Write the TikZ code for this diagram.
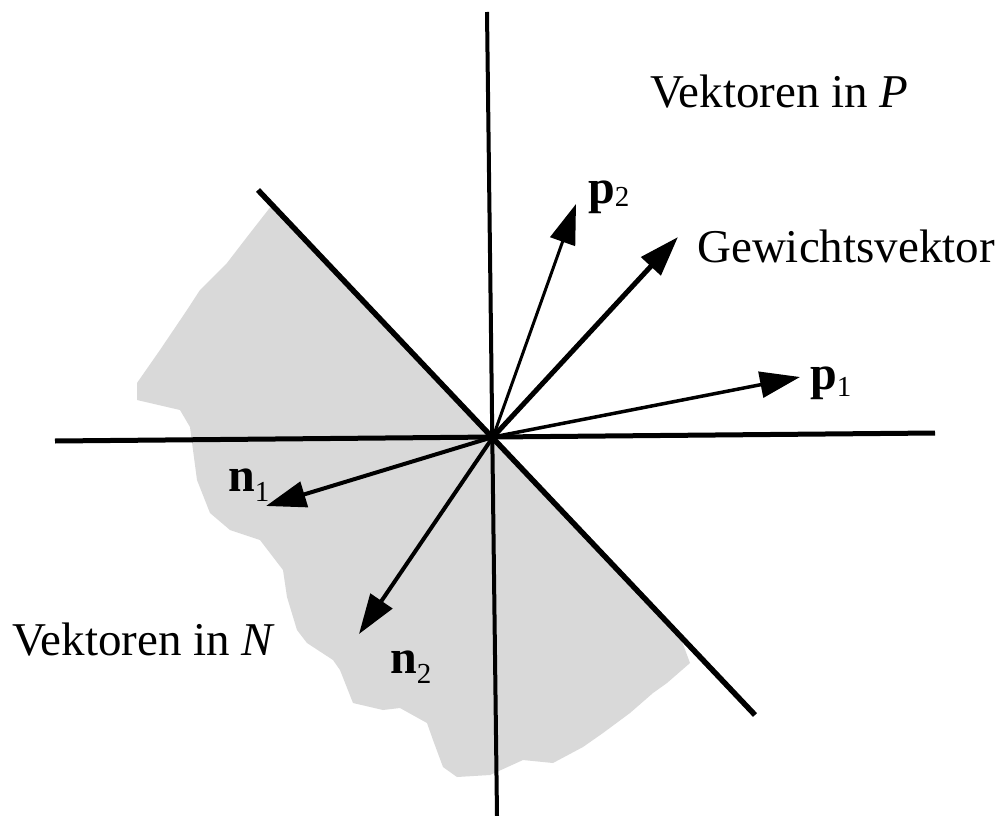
\documentclass[tikz,border=0pt]{standalone}
\usepackage{fontspec}
\setmainfont{Liberation Serif}
\usetikzlibrary{arrows.meta}
\tikzset{
  axisline/.style={line width=5pt, black},
  vec/.style={line width=#1, black, -{Triangle[length=40pt,width=26pt]}},
  bigtext/.style={font=\fontsize{47}{56}\selectfont, inner sep=0pt, anchor=base west},
  veclabel/.style={font=\fontsize{48}{56}\selectfont\bfseries, inner sep=0pt, anchor=base west},
  shade/.style={fill=black!15, draw=none}
}
\newcommand{\subs}[2]{\raisebox{-#2}{\fontsize{29}{32}\selectfont\mdseries #1}}
\begin{document}
\begin{tikzpicture}[x=1pt,y=-1pt]
\useasboundingbox (0,0) rectangle (1007,816);
\fill[white] (0,0) rectangle (1007,816);
% coordinates
\coordinate (O) at (493,437);
\coordinate (vtop) at (487,12);
\coordinate (vbot) at (497,816);
\coordinate (hleft) at (55,441);
\coordinate (hright) at (935,433);
\coordinate (dtop) at (258,190);
\coordinate (dbot) at (755,715);
\coordinate (p1tip) at (800,377);
\coordinate (p2tip) at (576,204);
\coordinate (gtip) at (678,237);
\coordinate (n1tip) at (266,506);
\coordinate (n2tip) at (359,634);
% shaded region
\path[shade] (272,205) -- (O) -- (680,636) -- (690,663) -- (667,683) -- (653,693) -- (630,713)
  -- (603,733) -- (583,747) -- (553,763) -- (523,760) -- (490,775) -- (457,777) -- (443,767)
  -- (433,740) -- (427,723) -- (400,708) -- (383,710) -- (353,703) -- (340,670) -- (333,660)
  -- (307,643) -- (297,630) -- (287,597) -- (283,570) -- (260,540) -- (230,530) -- (210,513)
  -- (197,480) -- (193,450) -- (190,427) -- (180,410) -- (137,400) -- (137,383) -- (160,350)
  -- (187,310) -- (200,290) -- (227,263) -- (247,237) -- cycle;
% axes
\draw[axisline, line width=4pt] (vtop) -- (vbot);
\draw[axisline] (hleft) -- (hright);
\draw[axisline, line width=5.5pt] (dtop) -- (dbot);
% vectors
\draw[vec=3pt] (O) -- (p2tip);
\draw[vec=5pt] (O) -- (gtip);
\draw[vec=3.5pt] (O) -- (p1tip);
\draw[vec=4pt] (O) -- (n1tip);
\draw[vec=4pt] (O) -- (n2tip);
% labels
\node[bigtext] (lP) at (650,107) {Vektoren in \textit{P}};
\node[bigtext] (lN) at (12,655) {Vektoren in \textit{N}};
\node[bigtext] (lG) at (697,262) {Gewichtsvektor};
\node[veclabel] (lp1) at (810,389) {p\subs{1}{7pt}};
\node[veclabel] (lp2) at (588,203) {p\subs{2}{3pt}};
\node[veclabel] (ln1) at (228,491) {n\subs{1}{10pt}};
\node[veclabel] (ln2) at (390,673) {n\subs{2}{10pt}};
\end{tikzpicture}
\end{document}
